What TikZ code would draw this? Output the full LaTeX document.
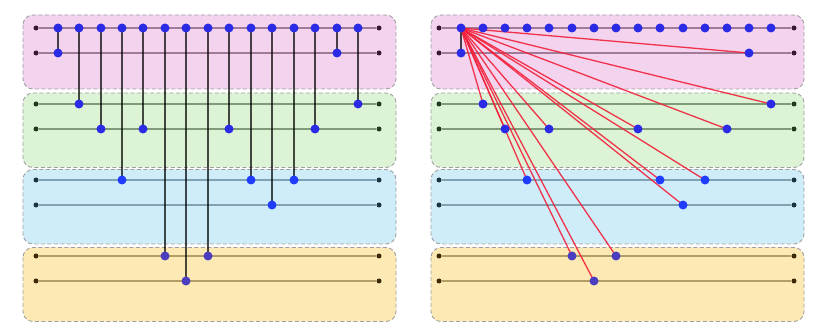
\documentclass[tikz,border=0pt]{standalone}
\begin{document}
\definecolor{fP}{HTML}{F3D3EE}
\definecolor{fG}{HTML}{DCF3D5}
\definecolor{fB}{HTML}{CFEDF9}
\definecolor{fY}{HTML}{FDE9B4}
\definecolor{wP}{HTML}{A07C98}
\definecolor{wG}{HTML}{7F9B78}
\definecolor{wB}{HTML}{80A3B3}
\definecolor{wY}{HTML}{B39E66}
\definecolor{eP}{HTML}{3A1A32}
\definecolor{eG}{HTML}{1F3A1F}
\definecolor{eB}{HTML}{1A3540}
\definecolor{eY}{HTML}{3A2A08}
\definecolor{dA}{HTML}{2B2BE6}
\definecolor{dB}{HTML}{1F3CFF}
\definecolor{dY}{HTML}{4B3DBF}
\definecolor{lnk}{HTML}{F2203A}
\begin{tikzpicture}[x=1pt,y=-1pt,
  grp/.style={draw=gray!75, dash pattern=on 4pt off 2.5pt, line width=0.9pt, rounded corners=10pt},
  enddot/.style={circle, inner sep=0pt, minimum size=5pt},
  qdot/.style={circle, inner sep=0pt, minimum size=9pt},
  wire/.style={line width=2pt},
  conn/.style={line width=2pt, black, opacity=0.7},
  link/.style={line width=1.3pt, lnk, opacity=0.9}]
\useasboundingbox (0,0) rectangle (831,323);
% group boxes
\foreach \xa/\xb in {23/396, 431/804} {
  \path[grp, fill=fP] (\xa,15) rectangle (\xb,89);
  \path[grp, fill=fG] (\xa,93) rectangle (\xb,167.5);
  \path[grp, fill=fB] (\xa,169.5) rectangle (\xb,244);
  \path[grp, fill=fY] (\xa,247.5) rectangle (\xb,321.5);
}
% wires
\foreach \p/\xa/\xb in {L/36/379, R/439/794} {
  \foreach \r/\y/\lc/\ec in {P1/28/wP/eP, P2/53/wP/eP, G1/104/wG/eG, G2/129/wG/eG, B1/180/wB/eB, B2/205/wB/eB, Y1/256/wY/eY, Y2/281/wY/eY} {
    \node[enddot, fill=\ec] (\p\r a) at (\xa,\y) {};
    \node[enddot, fill=\ec] (\p\r b) at (\xb,\y) {};
    \draw[wire, \lc] (\p\r a) -- (\p\r b);
  }
}
\def\cols{1/53/dA, 2/104/dA, 3/129/dA, 4/180/dB, 5/129/dA, 6/256/dY, 7/281/dY, 8/256/dY, 9/129/dA, 10/180/dB, 11/205/dB, 12/180/dB, 13/129/dA, 14/53/dA, 15/104/dA}
\foreach \i/\ty/\dc in \cols {
  \pgfmathsetmacro\xl{round(57.7+21.45*(\i-1))}
  \pgfmathsetmacro\xr{round(460.7+22.19*(\i-1))}
  \coordinate (L\i-t) at (\xl,28);
  \coordinate (L\i-d) at (\xl,\ty);
  \coordinate (R\i-t) at (\xr,28);
  \coordinate (R\i-d) at (\xr,\ty);
}
% connectors
\foreach \i in {1,...,15} { \draw[conn] (L\i-t) -- (L\i-d); }
\draw[conn] (R1-t) -- (R1-d);
\foreach \i in {2,...,15} { \draw[link] (R1-t) -- (R\i-d); }
% dots
\foreach \i/\ty/\dc in \cols {
  \node[qdot, fill=dA] (L\i-tn) at (L\i-t) {};
  \node[qdot, fill=\dc] (L\i-dn) at (L\i-d) {};
  \node[qdot, fill=dA] (R\i-tn) at (R\i-t) {};
  \node[qdot, fill=\dc] (R\i-dn) at (R\i-d) {};
}
\end{tikzpicture}
\end{document}
